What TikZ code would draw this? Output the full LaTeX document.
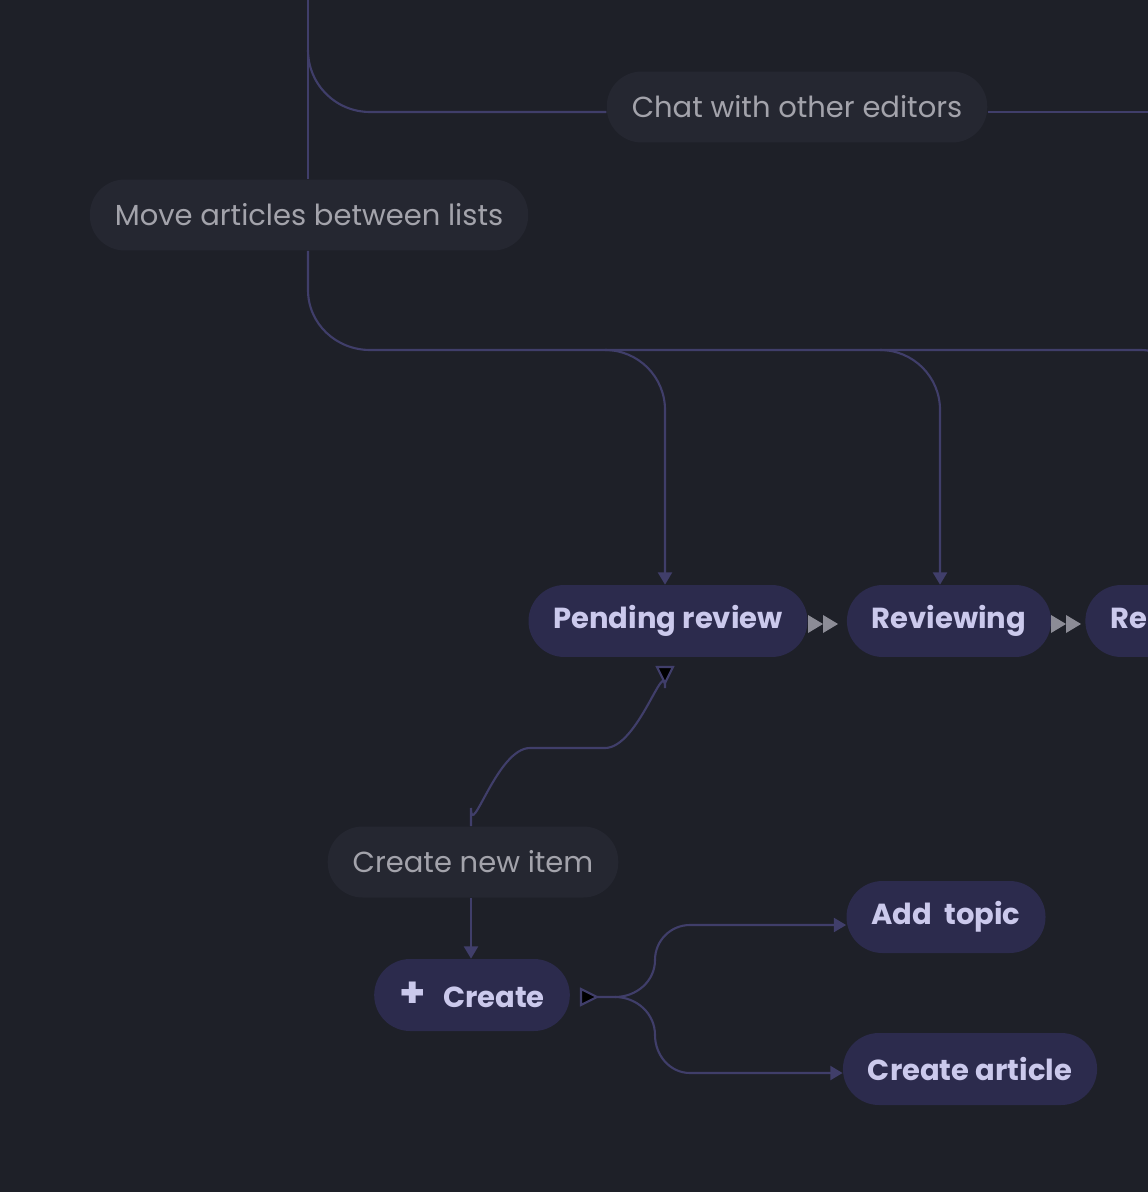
\documentclass[tikz,border=0pt]{standalone}
\usepackage{fontspec}
\setmainfont{Poppins}
\usetikzlibrary{arrows.meta}
\definecolor{bg}{HTML}{1E2028}
\definecolor{note}{HTML}{252731}
\definecolor{notetext}{HTML}{A3A3AB}
\definecolor{pill}{HTML}{2C2B4D}
\definecolor{pilltext}{HTML}{CBC9EC}
\definecolor{wire}{HTML}{403E6A}
\definecolor{tip}{HTML}{8C8C96}
\begin{document}
\begin{tikzpicture}[x=0.02cm,y=-0.02cm,
    note/.style = {rounded corners=0.7cm, fill=note, text=notetext, minimum height=1.42cm, inner xsep=0.5cm, font=\fontsize{16.5}{20}\selectfont},
    status/.style = {rounded corners=0.72cm, fill=pill, text=pilltext, minimum height=1.44cm, inner xsep=0.5cm, font=\fontsize{16.5}{20}\selectfont\bfseries},
    wire/.style = {draw=wire, line width=1.2pt},
    arr/.style = {wire, -{Triangle[length=7pt,width=8pt]}},
    double/.style = {fill=tip}]
\fill[bg] (0,0) rectangle (1148,1192);
\useasboundingbox (0,0) rectangle (1148,1192);
\begin{scope}
\clip (0,0) rectangle (1148,1192);

\node[note] (chat) at (797,107) {Chat with other editors};
\node[note] (move) at (309,215) {Move articles between lists};
\node[status] (pending) at (668,621) {Pending review};
\node[status] (reviewing) at (949,621) {Reviewing};
\node[status, anchor=west] (rest) at (1085,621) {Re\phantom{ady to publish}};
\node[note] (newitem) at (473,862) {Create new item};
\node[status] (create) at (472,995) {{\fontsize{24}{20}\selectfont +}\hspace{0.35cm}Create};
\node[status] (topic) at (946,917) {Add\ \ topic};
\node[status] (article) at (970,1069) {Create article};

% top wires
\draw[wire] (308,0) -- (move.north -| 308,0);
\draw[wire] (308,50) to[out=-90,in=180] (370,112) -- (chat.west |- 0,112);
\draw[wire] (chat.east |- 0,112) -- (1148,112);
\draw[wire] (move.south -| 308,0) -- (308,290) to[out=-90,in=180] (370,350) -- (1140,350) to[out=0,in=90] (1200,410);
\draw[arr] (605,350) to[out=0,in=90] (665,410) -- (pending.north -| 665,0);
\draw[arr] (880,350) to[out=0,in=90] (940,410) -- (reviewing.north -| 940,0);

% double tips
\foreach \x in {808,1051}{
  \fill[double] (\x,615) -- (\x+15,624) -- (\x,633) -- cycle;
  \fill[double] (\x+15,615) -- (\x+30,624) -- (\x+15,633) -- cycle;
}

% create new item
\draw[wire] (newitem.north -| 471,0) -- (471,808) to[out=-90,in=180] (530,748) -- (605,748) to[out=0,in=90] (665,688) -- (665,670);
\fill[wire] (657,667) -- (673,667) -- (665,683) -- cycle;
\draw[arr] (newitem.south -| 471,0) -- (create.north -| 471,0);

% create split
\fill[wire] (581,989) -- (597,997) -- (581,1005) -- cycle;
\draw[wire] (597,997) -- (615,997) to[out=0,in=-90] (655,960);
\draw[arr] (655,960) to[out=90,in=180] (690,925) -- (topic.west |- 0,925);
\draw[wire] (615,997) to[out=0,in=90] (655,1035);
\draw[arr] (655,1035) to[out=-90,in=180] (690,1073) -- (article.west |- 0,1073);
\end{scope}
\end{tikzpicture}
\end{document}
